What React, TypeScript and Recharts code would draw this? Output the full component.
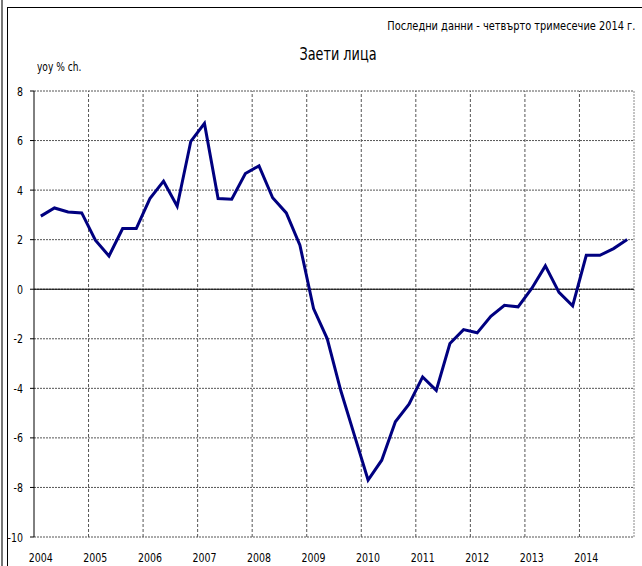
import {
  CartesianGrid,
  LineChart,
  Line,
  ReferenceLine,
  XAxis,
  YAxis,
} from "recharts";

const YEARS = [
  "2004", "2005", "2006", "2007", "2008", "2009",
  "2010", "2011", "2012", "2013", "2014",
];
const QUARTERS = ["Q1", "Q2", "Q3", "Q4"];

// yoy % change of employed persons, quarterly 2004Q1 - 2014Q4
const EMPLOYED_YOY = [
  2.95, 3.28, 3.12, 3.08,
  1.98, 1.34, 2.45, 2.45,
  3.66, 4.36, 3.35, 5.97,
  6.69, 3.66, 3.63, 4.67,
  4.98, 3.69, 3.08, 1.78,
  -0.78, -1.99, -4.1, -5.9,
  -7.7, -6.9, -5.35, -4.64,
  -3.54, -4.08, -2.19, -1.63,
  -1.76, -1.09, -0.65, -0.71,
  0.03, 0.94, -0.13, -0.67,
  1.37, 1.37, 1.64, 2.01,
];

const Y_TICKS = [-10, -8, -6, -4, -2, 0, 2, 4, 6, 8];

const TITLE = "Заети лица";
const NOTE = "Последни данни - четвърто тримесечие 2014 г.";
const UNIT = "yoy % ch.";

const CATEGORIES = YEARS.flatMap((y) => QUARTERS.map((q) => `${y} ${q}`));
const rows = CATEGORIES.map((period, i) => ({
  period,
  value: EMPLOYED_YOY[i],
}));
const YEAR_STARTS = YEARS.map((y) => `${y} Q1`);

const FONT = "'DejaVu Sans Condensed', 'Liberation Sans', sans-serif";
const NAVY = "#000080";
const GRID = "#555";
// the original uses a narrow face; squeeze the condensed one a little more
const SQUEEZE = 0.84;

interface TickProps {
  x?: number;
  y?: number;
  payload?: { value: string | number };
}

function XTick({ x = 0, y = 0, payload }: TickProps) {
  return (
    <text
      transform={`translate(${x},${y}) scale(${SQUEEZE},1)`}
      textAnchor="middle"
      dy="0.71em"
      fontSize={12.5}
      fontFamily={FONT}
      fill="#000"
    >
      {String(payload?.value ?? "").slice(0, 4)}
    </text>
  );
}

function YTick({ x = 0, y = 0, payload }: TickProps) {
  return (
    <text
      transform={`translate(${x},${y}) scale(${SQUEEZE},1)`}
      textAnchor="end"
      dy="0.36em"
      fontSize={12.5}
      fontFamily={FONT}
      fill="#000"
    >
      {payload?.value}
    </text>
  );
}

const squeezed = (origin: string) => ({
  transform: `scaleX(${SQUEEZE})`,
  transformOrigin: origin,
});

export default function App() {
  return (
    <div
      style={{
        position: "fixed",
        left: 0,
        top: 0,
        width: 642,
        height: 566,
        background: "#fff",
        fontFamily: FONT,
        overflow: "hidden",
      }}
    >
      {/* outer frame */}
      <div
        style={{
          position: "absolute",
          left: 1,
          top: 0,
          width: 2,
          height: 566,
          background: "#777",
        }}
      />
      <div
        style={{
          position: "absolute",
          left: 7,
          top: 7,
          width: 640,
          height: 570,
          borderLeft: "1px solid #000",
          borderTop: "1px solid #000",
        }}
      />
      <div
        style={{
          position: "absolute",
          right: 7,
          top: 18,
          fontSize: 13,
          color: "#000",
          whiteSpace: "nowrap",
          ...squeezed("right center"),
        }}
      >
        {NOTE}
      </div>
      <div
        style={{
          position: "absolute",
          left: 238,
          width: 200,
          top: 44,
          textAlign: "center",
          fontSize: 17,
          color: "#000",
          ...squeezed("center center"),
        }}
      >
        {TITLE}
      </div>
      <div
        style={{
          position: "absolute",
          left: 37,
          top: 60,
          fontSize: 12,
          color: "#000",
          whiteSpace: "nowrap",
          ...squeezed("left center"),
        }}
      >
        {UNIT}
      </div>
      <div style={{ position: "absolute", left: 0, top: 0 }}>
        <LineChart
          width={642}
          height={566}
          data={rows}
          margin={{ top: 91, right: 8, bottom: 0, left: 0 }}
        >
          <CartesianGrid
            vertical={false}
            stroke={GRID}
            strokeDasharray="2 1"
          />
          <XAxis
            dataKey="period"
            type="category"
            scale="band"
            ticks={YEAR_STARTS}
            interval={0}
            height={29}
            axisLine={false}
            tickLine={false}
            tickMargin={10}
            tick={<XTick />}
          />
          <YAxis
            domain={[-10, 8]}
            ticks={Y_TICKS}
            interval={0}
            width={34}
            axisLine={{ stroke: "#000" }}
            tickLine={{ stroke: "#000" }}
            tickSize={4}
            tickMargin={7}
            tick={<YTick />}
          />
          {YEAR_STARTS.slice(1).map((p) => (
            <ReferenceLine
              key={p}
              x={p}
              position="start"
              stroke={GRID}
              strokeDasharray="3 2"
            />
          ))}
          <ReferenceLine
            x={CATEGORIES[CATEGORIES.length - 1]}
            position="end"
            stroke="#888"
            strokeDasharray="2 1"
          />
          <ReferenceLine y={0} stroke="#000" strokeWidth={1} />
          <Line
            dataKey="value"
            stroke={NAVY}
            strokeWidth={3}
            dot={false}
            isAnimationActive={false}
          />
        </LineChart>
      </div>
    </div>
  );
}
